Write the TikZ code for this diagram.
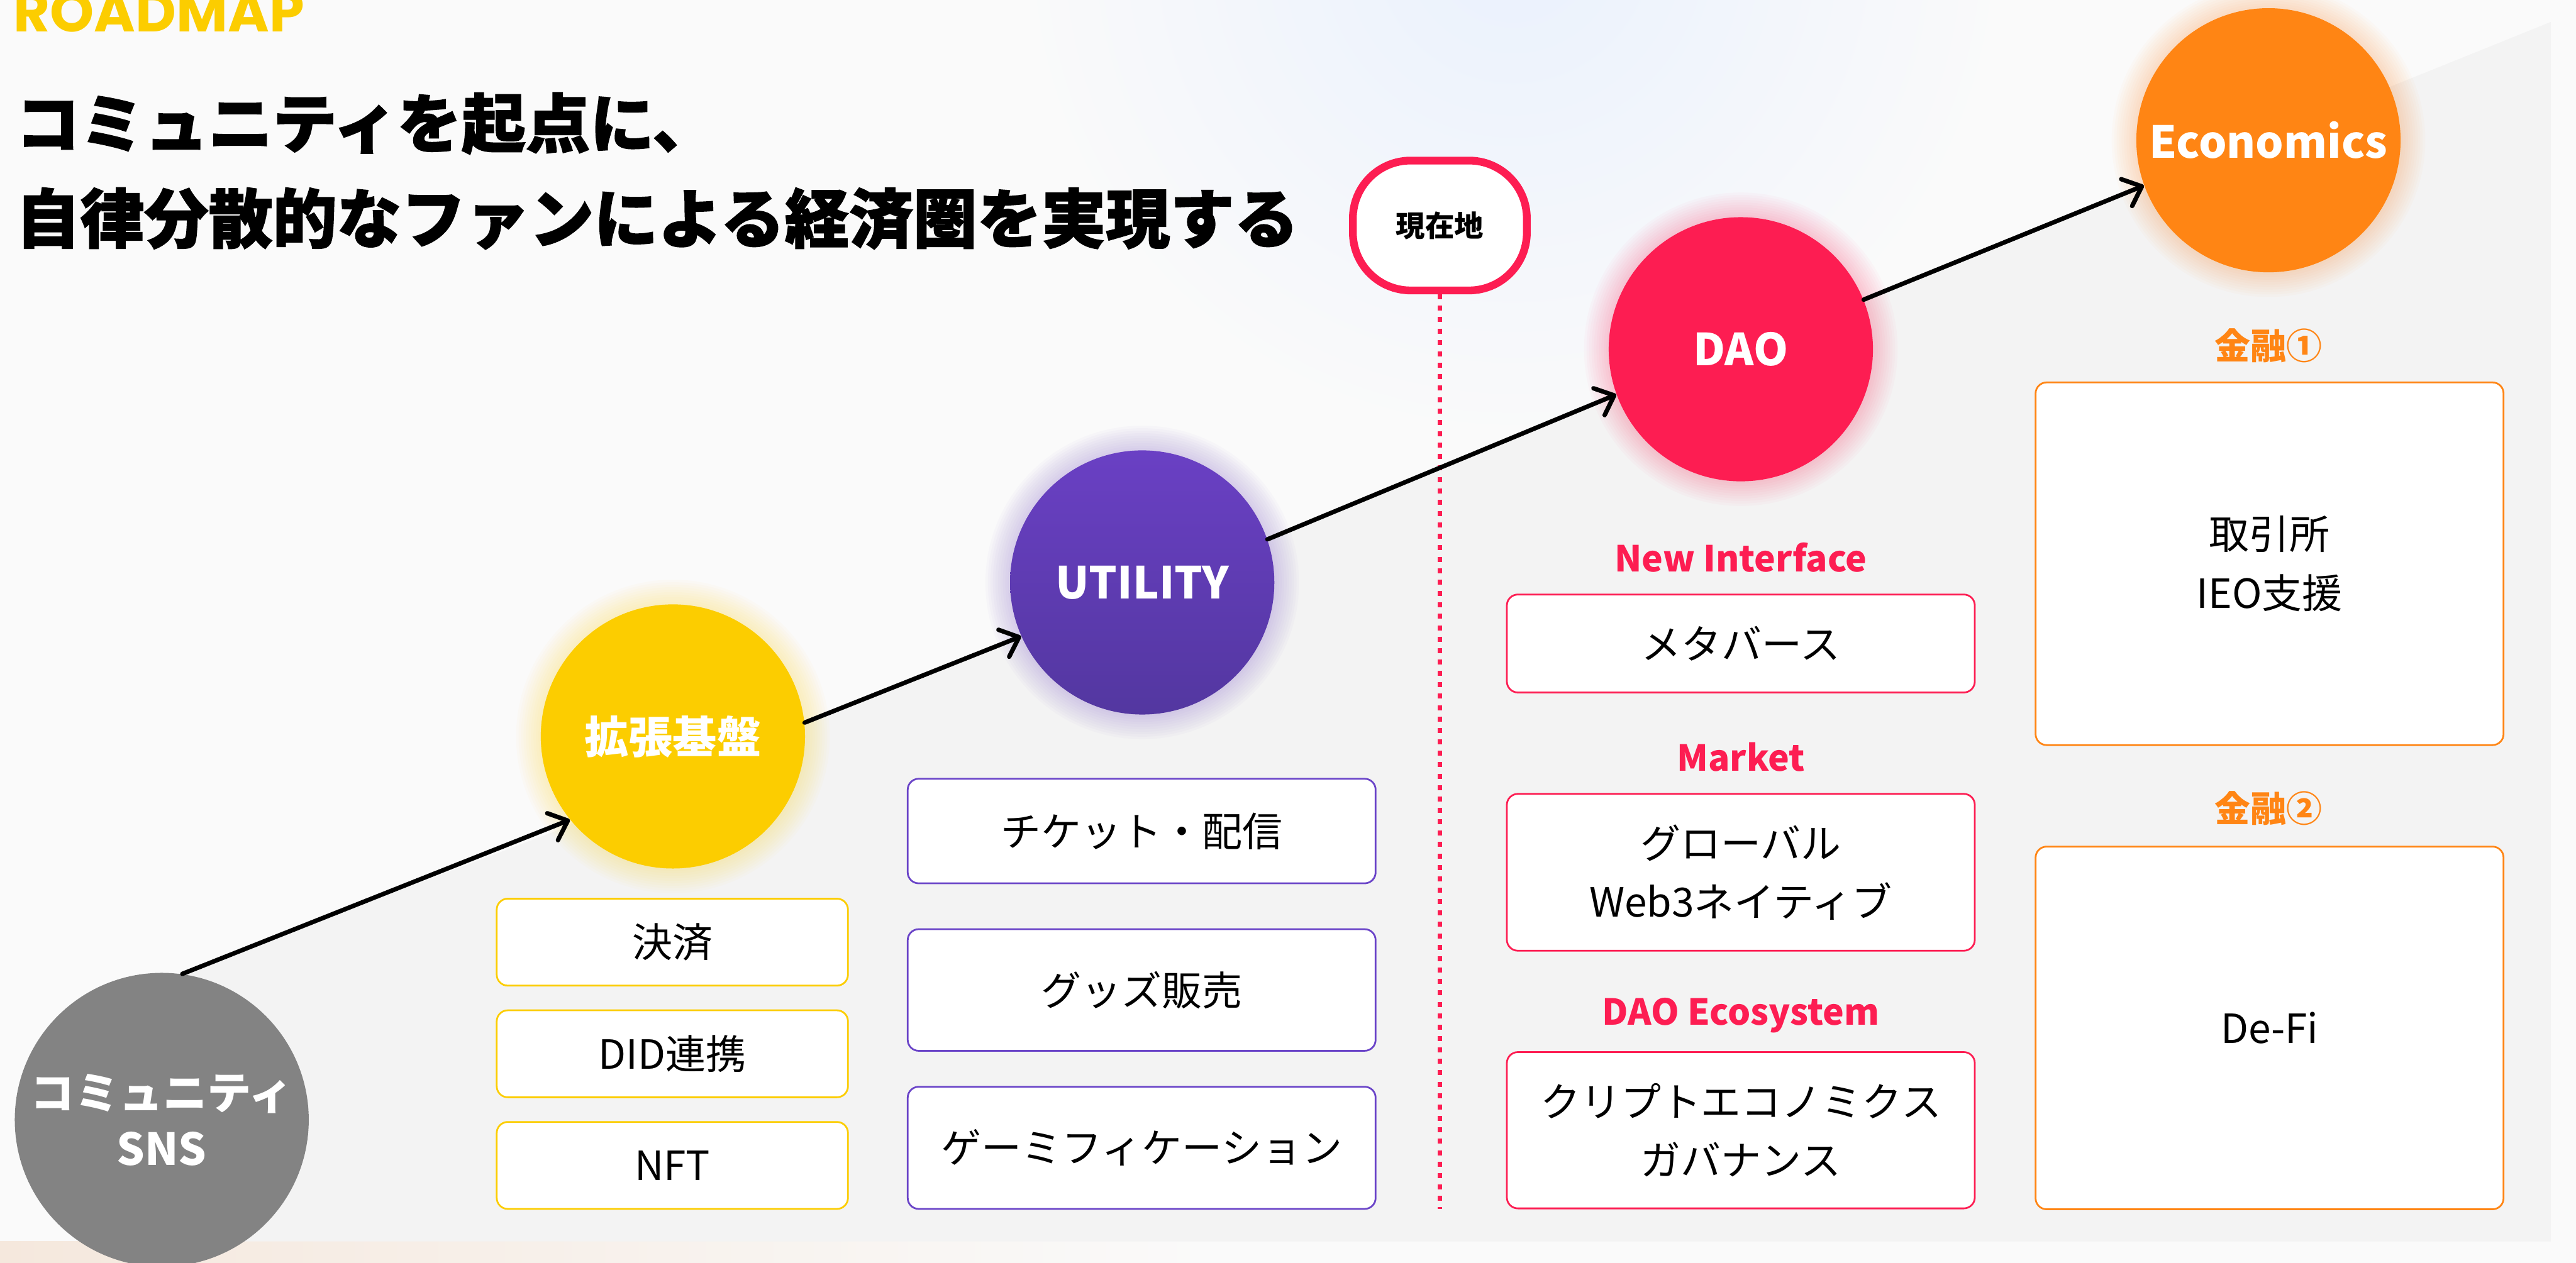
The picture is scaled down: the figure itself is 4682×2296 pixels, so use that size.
\documentclass[tikz,border=0pt]{standalone}
\usepackage{fontspec}
\setmainfont{Noto Sans CJK JP}
\newfontfamily\popp{Poppins}
\newfontfamily\titlefont{Noto Sans CJK JP}[BoldFeatures={FakeBold=1.6}]
\usetikzlibrary{arrows.meta}
\definecolor{bgc}{HTML}{FAFAFA}
\definecolor{grayarea}{HTML}{F3F3F3}
\definecolor{yel}{HTML}{FCCD00}
\definecolor{purtop}{HTML}{6A40C4}
\definecolor{purbot}{HTML}{5337A0}
\definecolor{purline}{HTML}{6A44C8}
\definecolor{pnk}{HTML}{FD1D52}
\definecolor{org}{HTML}{FF8514}
\definecolor{snsgray}{HTML}{838383}
\definecolor{blueglow}{HTML}{EAF1FD}
\definecolor{peach}{HTML}{F5E8DD}
\begin{document}
\begin{tikzpicture}[x=0.01cm,y=-0.01cm,
  stage/.style={circle, inner sep=0, minimum size=4.8cm, text=white, align=center,
    font=\bfseries\fontsize{22.8}{29}\selectfont},
  item/.style={rectangle, rounded corners=0.2cm, fill=white, line width=0.9pt,
    align=center, inner sep=0, font=\fontsize{20.8}{30.4}\selectfont},
  lbl/.style={inner sep=0, font=\bfseries\fontsize{18.5}{22}\selectfont},
  arr/.style={line width=2.3pt, line cap=round,
    -{Straight Barb[length=8.5pt,width=15pt,round]}},
  title/.style={inner sep=0, anchor=base west, font=\titlefont\bfseries\fontsize{33.2}{40}\selectfont}
]
\useasboundingbox (0,0) rectangle (4682,2296);
\clip (0,0) rectangle (4682,2296);
\fill[bgc] (0,0) rectangle (4682,2296);
\shade[inner color=blueglow, outer color=bgc] (2750,-100) circle[radius=900];
\shade[left color=peach, right color=bgc] (0,2257) rectangle (2200,2296);
\fill[grayarea] (294,2257) -- (294,2036) -- (332,1769) -- (1034,1502) -- (1223,1339)
  -- (1462,1315) -- (1857,1155) -- (2076,1059) -- (2304,979) -- (2939,722)
  -- (3164,635) -- (3390,543) -- (4636,40) -- (4636,2257) -- cycle;

% glows
\foreach \cx/\cy/\c in {1223/1339/yel, 2076/1059/purtop, 3164/635/pnk, 4123/255/org}{
  \foreach \k in {1,...,10}{
    \fill[\c, opacity=0.022] (\cx,\cy) circle[radius=240+4.5*\k];
  }
}

% header
\node[inner sep=0, anchor=base west, text=yel, font=\popp\bfseries\fontsize{29}{30}\selectfont]
  (roadmap) at (24,58) {ROADMAP};
\node[title] (t1) at (28,268) {コミュニティを起点に、};
\node[title] (t2) at (28,441) {自律分散的なファンによる経済圏を実現する};

% stages
\node[stage, fill=snsgray, minimum size=5.34cm] (sns) at (294,2036) {コミュニティ\\SNS};
\node[stage, fill=yel] (kak) at (1223,1339) {拡張基盤};
\node[stage, top color=purtop, bottom color=purbot] (util) at (2076,1059) {UTILITY};
\node[stage, fill=pnk] (dao) at (3164,635) {DAO};
\node[stage, fill=org] (eco) at (4123,255) {Economics};

% current position marker
\node[rectangle, rounded corners=1.05cm, draw=pnk, line width=4pt, fill=white,
  minimum width=3.16cm, minimum height=2.36cm, inner sep=0,
  font=\bfseries\fontsize{15.1}{18}\selectfont] (now) at (2617,410) {現在地};
\coordinate (dashend) at (2617,2198);
\draw[pnk, line width=2pt, dash pattern=on 2.6pt off 3.3pt] (now.south) -- (dashend);

% arrows
\draw[arr] (sns.82) -- (kak.219);
\draw[arr] (kak.6) -- (util.204);
\draw[arr] (util.19) -- (dao.200);
\draw[arr] (dao.22) -- (eco.200);

% yellow items
\node[item, draw=yel, minimum width=6.38cm, minimum height=1.58cm] (y1) at (1222,1713) {決済};
\node[item, draw=yel, minimum width=6.38cm, minimum height=1.58cm] (y2) at (1222,1916) {DID連携};
\node[item, draw=yel, minimum width=6.38cm, minimum height=1.58cm] (y3) at (1222,2119) {NFT};

% purple items
\node[item, draw=purline, minimum width=8.5cm, minimum height=1.9cm] (p1) at (2075,1511) {チケット・配信};
\node[item, draw=purline, minimum width=8.5cm, minimum height=2.21cm] (p2) at (2075,1800) {グッズ販売};
\node[item, draw=purline, minimum width=8.5cm, minimum height=2.22cm] (p3) at (2075,2087) {ゲーミフィケーション};

% pink items
\node[lbl, text=pnk] (l1) at (3164,1014) {New Interface};
\node[item, draw=pnk, minimum width=8.5cm, minimum height=1.78cm] (k1) at (3164,1170) {メタバース};
\node[lbl, text=pnk] (l2) at (3164,1376) {Market};
\node[item, draw=pnk, minimum width=8.5cm, minimum height=2.85cm] (k2) at (3164,1586) {グローバル\\Web3ネイティブ};
\node[lbl, text=pnk] (l3) at (3164,1846) {DAO Ecosystem};
\node[item, draw=pnk, minimum width=8.5cm, minimum height=2.84cm] (k3) at (3164,2055) {クリプトエコノミクス\\ガバナンス};

% orange items
\node[lbl, text=org] (o1l) at (4123,628) {金融①};
\node[item, draw=org, minimum width=8.5cm, minimum height=6.59cm] (o1) at (4125,1025) {取引所\\IEO支援};
\node[lbl, text=org] (o2l) at (4123,1470) {金融②};
\node[item, draw=org, minimum width=8.5cm, minimum height=6.59cm] (o2) at (4125,1869) {De-Fi};
\end{tikzpicture}
\end{document}
